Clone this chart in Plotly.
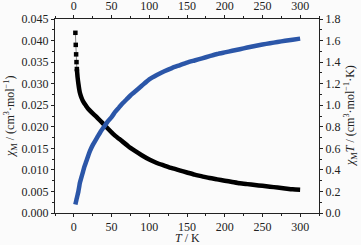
import plotly.graph_objects as go

# Temperature (K)
T = [2, 2.5, 3, 3.5, 4, 5, 6, 7, 8, 10, 12, 14, 16, 18, 21, 25, 30, 35, 40, 45,
     50, 55, 60, 65, 70, 75, 80, 90, 100, 110, 120, 130, 140, 150, 160, 170,
     180, 190, 200, 210, 220, 230, 240, 250, 260, 270, 280, 290, 300]

# chi_M (cm^3 mol^-1), left axis
chi_M = [0.0418, 0.0390, 0.0368, 0.0350, 0.0334, 0.0314, 0.0300, 0.0288, 0.0279,
         0.0268, 0.0260, 0.0254, 0.0249, 0.0244, 0.0238, 0.0231, 0.0223, 0.0214,
         0.0205, 0.0196, 0.0187, 0.0179, 0.0172, 0.0165, 0.0158, 0.0151, 0.0145,
         0.0134, 0.0124, 0.0116, 0.0110, 0.0104, 0.0099, 0.0094, 0.0089, 0.0085,
         0.0081, 0.0078, 0.0075, 0.0072, 0.0069, 0.0067, 0.0065, 0.0063, 0.0061,
         0.0059, 0.0057, 0.0055, 0.0054]

# chi_M*T (cm^3 mol^-1 K), right axis
chi_MT = [0.08, 0.095, 0.11, 0.125, 0.14, 0.17, 0.20, 0.24, 0.28, 0.33, 0.38,
          0.43, 0.47, 0.51, 0.57, 0.63, 0.69, 0.75, 0.80, 0.85, 0.89, 0.94,
          0.98, 1.02, 1.055, 1.09, 1.12, 1.18, 1.24, 1.28, 1.315, 1.345, 1.37,
          1.395, 1.415, 1.435, 1.455, 1.475, 1.49, 1.505, 1.52, 1.535, 1.55, 1.563,
          1.575, 1.587, 1.598, 1.608, 1.618]

x_ticks = [0, 50, 100, 150, 200, 250, 300]

FONT = "Liberation Serif"
BLACK = "#000000"
BLUE = "#2b56a8"
AX = "#222222"
N_SEP = 5  # number of low-T points drawn as separate squares

fig = go.Figure()

fig.add_trace(go.Scatter(x=T[:N_SEP], y=chi_M[:N_SEP], mode="lines+markers",
                         line=dict(color="#888888", width=1),
                         marker=dict(symbol="square", size=4.5, color=BLACK),
                         xaxis="x", yaxis="y", showlegend=False))
fig.add_trace(go.Scatter(x=T[N_SEP - 1:], y=chi_M[N_SEP - 1:], mode="lines",
                         line=dict(color=BLACK, width=4.5, shape="spline",
                                   smoothing=0.6),
                         xaxis="x", yaxis="y", showlegend=False))
fig.add_trace(go.Scatter(x=T, y=chi_MT, mode="lines",
                         line=dict(color=BLUE, width=4.5, shape="spline",
                                   smoothing=0.6),
                         xaxis="x", yaxis="y2", showlegend=False))
# invisible trace so the top axis is drawn
fig.add_trace(go.Scatter(x=[T[0]], y=[chi_M[0]], xaxis="x2", yaxis="y",
                         mode="markers", marker=dict(opacity=0),
                         hoverinfo="skip", showlegend=False))

common = dict(showline=True, linecolor=AX, linewidth=1, ticks="outside",
              ticklen=3, tickwidth=1, tickcolor=AX, showgrid=False,
              zeroline=False, automargin=False,
              tickfont=dict(family=FONT, size=12, color="#222"))

fig.update_layout(
    width=361, height=245,
    margin=dict(l=55, r=42, t=19, b=32),
    paper_bgcolor="#fbfbfb", plot_bgcolor="#fbfbfb",
    font=dict(family=FONT, size=12, color="#222"),
    xaxis=dict(range=[-25, 325], tickvals=x_ticks,
               minor=dict(ticks="outside", ticklen=2, dtick=25, tick0=0,
                          tickcolor=AX),
               anchor="y", **common),
    xaxis2=dict(range=[-25, 325], tickvals=x_ticks, overlaying="x",
                side="top", anchor="y",
                minor=dict(ticks="outside", ticklen=2, dtick=25, tick0=0,
                           tickcolor=AX),
                **common),
    yaxis=dict(range=[0, 0.045], dtick=0.005, tickformat=".3f",
               minor=dict(ticks="outside", ticklen=2, dtick=0.0025,
                          tickcolor=AX),
               **common),
    yaxis2=dict(range=[0, 1.8], dtick=0.2, tickformat=".1f", overlaying="y",
                side="right", anchor="x",
                minor=dict(ticks="outside", ticklen=2, dtick=0.1,
                           tickcolor=AX),
                **common),
    annotations=[
        dict(text="<i>χ</i><sub>M</sub> / (cm<sup>3</sup>·mol<sup>−1</sup>)",
             xref="paper", yref="paper", x=0, y=0.5, xshift=-45,
             xanchor="center", yanchor="middle", textangle=-90,
             showarrow=False, font=dict(family=FONT, size=12, color="#222")),
        dict(text="<i>χ</i><sub>M</sub><i>T</i> / (cm<sup>3</sup>·mol<sup>−1</sup>·K)",
             xref="paper", yref="paper", x=1, y=0.5, xshift=31,
             xanchor="center", yanchor="middle", textangle=-90,
             showarrow=False, font=dict(family=FONT, size=12, color="#222")),
        dict(text="<i>T</i> / K", xref="paper", yref="paper", x=0.5, y=0,
             yshift=-25, xanchor="center", yanchor="middle",
             showarrow=False, font=dict(family=FONT, size=12, color="#222")),
    ],
)

fig.write_html("out.html", config={"displayModeBar": False},
               post_script="document.body.style.margin='0';"
                           "document.body.style.background='#fbfbfb';")
